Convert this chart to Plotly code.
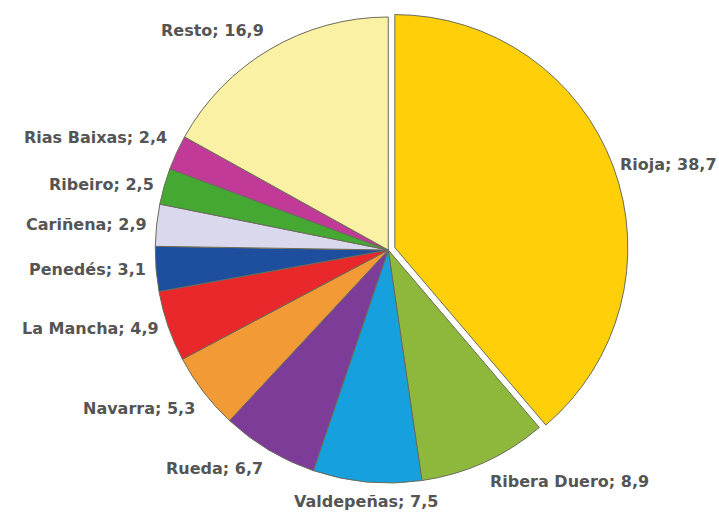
import math
import plotly.graph_objects as go

# Spanish wine denominations: market share (%)
regions = ["Rioja", "Ribera Duero", "Valdepeñas", "Rueda", "Navarra", "La Mancha",
           "Penedés", "Cariñena", "Ribeiro", "Rias Baixas", "Resto"]
shares = [38.7, 8.9, 7.5, 6.7, 5.3, 4.9, 3.1, 2.9, 2.5, 2.4, 16.9]
colors = ["#FFCF0A", "#8DB83B", "#16A0DD", "#7D3C98", "#F29A35", "#E8282B",
          "#1D4F9E", "#D9D8EC", "#45A832", "#C23A97", "#FBF1A4"]
pulls = [0.03] + [0] * (len(regions) - 1)

W, H = 719, 517
dom_x = [0.2, 0.88]
dom_y = [27 / H, 1 - 10 / H]
FONT_SIZE = 16

fig = go.Figure(go.Pie(
    labels=regions,
    values=shares,
    sort=False,
    direction="clockwise",
    rotation=0,
    pull=pulls,
    marker=dict(colors=colors, line=dict(color="#6b6b5a", width=1)),
    textinfo="none",
    showlegend=False,
    hoverinfo="label+value",
    domain=dict(x=dom_x, y=dom_y),
))

# Pie geometry in pixels (plotly shrinks the radius to leave room for the pull)
box_w = (dom_x[1] - dom_x[0]) * W
box_h = (dom_y[1] - dom_y[0]) * H
radius = min(box_w, box_h) / 2 / (1 + max(pulls))
cx = (dom_x[0] + dom_x[1]) / 2 * W
cy = (1 - (dom_y[0] + dom_y[1]) / 2) * H
gap = 8

total = sum(shares)
cum = 0.0
annotations = []
for name, val, pull in zip(regions, shares, pulls):
    mid = (cum + val / 2) / total * 2 * math.pi
    cum += val
    s, c = math.sin(mid), math.cos(mid)
    ox = cx + pull * radius * s
    oy = cy - pull * radius * c
    px = ox + (radius + gap) * s
    py = oy - (radius + gap) * c
    text = f"{name}; {val:.1f}".replace(".", ",")
    xanchor = "left" if s > 0.3 else ("right" if s < -0.3 else "center")
    yanchor = "top" if c < -0.4 else ("bottom" if c > 0.4 else "middle")
    if xanchor == "left":
        # keep right-hand labels inside the figure
        est_width = len(text) * 0.56 * FONT_SIZE
        px = min(px, W - 2 - est_width)
    annotations.append(dict(
        x=px / W, y=1 - py / H, xref="paper", yref="paper",
        text=f"<b>{text}</b>",
        showarrow=False, xanchor=xanchor, yanchor=yanchor,
        font=dict(family="DejaVu Sans", size=FONT_SIZE, color="#555555"),
    ))

fig.update_layout(
    width=W, height=H,
    margin=dict(l=0, r=0, t=0, b=0),
    paper_bgcolor="white",
    plot_bgcolor="white",
    annotations=annotations,
)

fig.write_html("out.html")
